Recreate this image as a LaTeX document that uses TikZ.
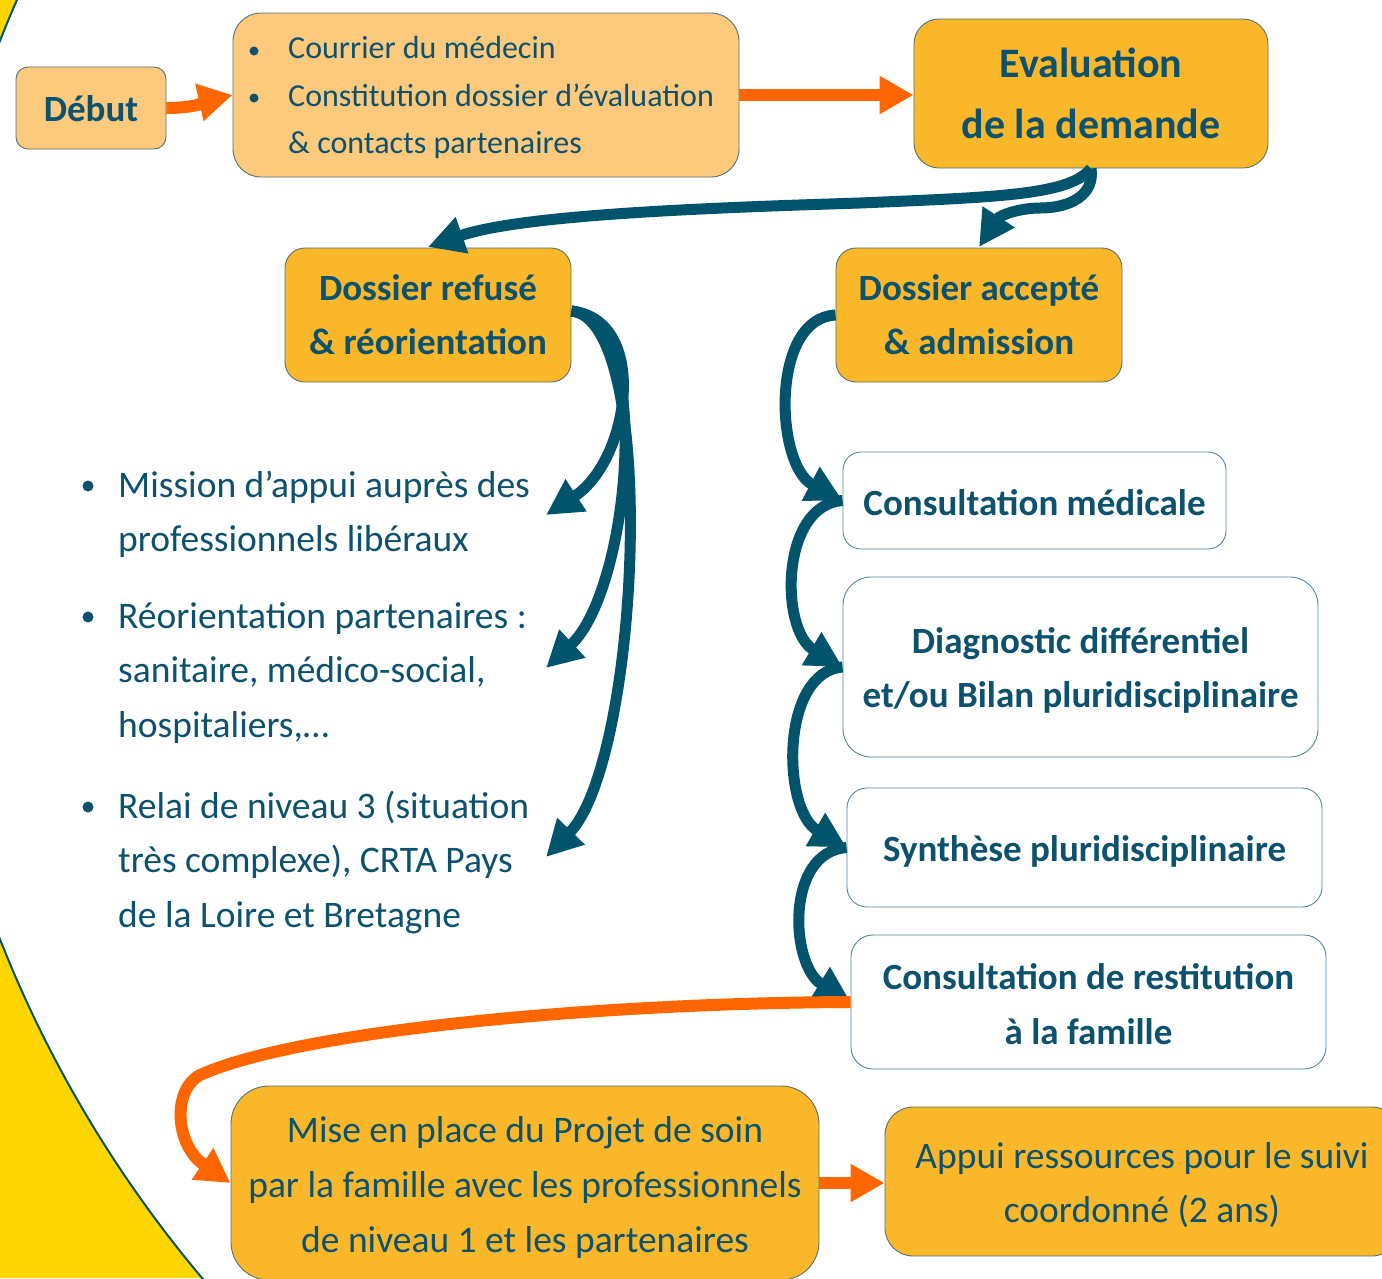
\documentclass[tikz,border=0pt]{standalone}
\usepackage{fontspec}
\setmainfont{Carlito}
\usetikzlibrary{arrows.meta}
\definecolor{ybg}{RGB}{255,214,0}
\definecolor{lor}{RGB}{253,201,125}
\definecolor{dor}{RGB}{251,183,42}
\definecolor{oarr}{RGB}{255,102,0}
\definecolor{tarr}{RGB}{2,84,108}
\definecolor{txt}{RGB}{12,82,110}
\definecolor{oline}{RGB}{85,115,115}
\definecolor{wline}{RGB}{80,135,165}
\begin{document}
\begin{tikzpicture}[x=1pt,y=-1pt,
 obox/.style={draw=oline, line width=0.9pt, inner sep=0pt},
 wbox/.style={draw=wline, line width=0.9pt, fill=white, inner sep=0pt},
 bfont/.style={font=\fontsize{37}{54}\selectfont\bfseries},
 efont/.style={font=\fontsize{42}{61}\selectfont\bfseries},
 rfont/.style={font=\fontsize{37.5}{54.5}\selectfont},
 cfont/.style={font=\fontsize{32}{46.5}\selectfont},
 tline/.style={anchor=base, inner sep=0pt, text=txt},
 ltext/.style={anchor=base west, inner sep=0pt, text=txt},
 oarrow/.style={draw=oarr, line width=12pt, -{Triangle[length=34pt,width=36pt]}},
 tarrow/.style={draw=tarr, line width=11pt, -{Triangle[length=36pt,width=36pt]}},
 bul/.style={fill=txt}]
\useasboundingbox (0,0) rectangle (1382,1278);
\begin{scope}
\clip (0,0) rectangle (1382,1278);
\fill[ybg] (0,0) rectangle (1382,1278);
\filldraw[fill=white, draw=tarr, line width=2pt] (1140,490) circle[radius=1225];

% boxes
\node[obox, fill=lor, rounded corners=12pt, minimum width=150, minimum height=82] (debut) at (91,108) {};
\node[obox, fill=lor, rounded corners=28pt, minimum width=506, minimum height=164] (courrier) at (486,95) {};
\node[obox, fill=dor, rounded corners=25pt, minimum width=354, minimum height=149] (eval) at (1091,93.5) {};
\node[obox, fill=dor, rounded corners=20pt, minimum width=286, minimum height=134] (refuse) at (428,315) {};
\node[obox, fill=dor, rounded corners=20pt, minimum width=286, minimum height=134] (accepte) at (979,315) {};
\node[wbox, rounded corners=18pt, minimum width=383, minimum height=97] (consult) at (1034.5,500.5) {};
\node[wbox, rounded corners=28pt, minimum width=475, minimum height=180] (diag) at (1080.5,667) {};
\node[wbox, rounded corners=20pt, minimum width=475, minimum height=119] (synth) at (1084.5,847.5) {};
\node[wbox, rounded corners=22pt, minimum width=475, minimum height=134] (restit) at (1088.5,1002) {};
\node[obox, fill=dor, rounded corners=38pt, minimum width=588, minimum height=194] (mise) at (525,1183) {};
\node[obox, fill=dor, rounded corners=28pt, minimum width=515, minimum height=149] (appui) at (1142.5,1181.5) {};

% box texts
\node[tline, bfont] (debut-t) at (91,121) {Début};
\node[tline, efont] (eval-t1) at (1091,77) {Evaluation};
\node[tline, efont] (eval-t2) at (1091,138) {de la demande};
\node[tline, bfont] (refuse-t1) at (428,300) {Dossier refusé};
\node[tline, bfont] (refuse-t2) at (428,354) {\& réorientation};
\node[tline, bfont] (accepte-t1) at (979,300) {Dossier accepté};
\node[tline, bfont] (accepte-t2) at (979,354) {\& admission};
\node[tline, bfont] (consult-t) at (1034.5,515) {Consultation médicale};
\node[tline, bfont] (diag-t1) at (1080.5,653) {Diagnostic différentiel};
\node[tline, bfont] (diag-t2) at (1080.5,707) {et/ou Bilan pluridisciplinaire};
\node[tline, bfont] (synth-t) at (1084.5,861) {Synthèse pluridisciplinaire};
\node[tline, bfont] (restit-t1) at (1088.5,989) {Consultation de restitution};
\node[tline, bfont] (restit-t2) at (1088.5,1044) {à la famille};
\node[tline, rfont] (mise-t1) at (525,1142) {Mise en place du Projet de soin};
\node[tline, rfont] (mise-t2) at (525,1197) {par la famille avec les professionnels};
\node[tline, rfont] (mise-t3) at (525,1252) {de niveau 1 et les partenaires};
\node[tline, rfont] (appui-t1) at (1142,1168) {Appui ressources pour le suivi};
\node[tline, rfont] (appui-t2) at (1142,1222) {coordonné (2 ans)};

% courrier text
\fill[bul] (254,51) circle[radius=4.5];
\fill[bul] (254,98) circle[radius=4.5];
\node[ltext, cfont] (c1) at (288,58) {Courrier du médecin};
\node[ltext, cfont] (c2) at (288,106) {Constitution dossier d’évaluation};
\node[ltext, cfont] (c3) at (288,153) {\& contacts partenaires};

% left list
\fill[bul] (88,486) circle[radius=5.5];
\fill[bul] (88,617) circle[radius=5.5];
\fill[bul] (88,807) circle[radius=5.5];
\node[ltext, rfont] (l1a) at (118,497) {Mission d’appui auprès des};
\node[ltext, rfont] (l1b) at (118,551) {professionnels libéraux};
\node[ltext, rfont] (l2a) at (118,628) {Réorientation partenaires :};
\node[ltext, rfont] (l2b) at (118,682) {sanitaire, médico-social,};
\node[ltext, rfont] (l2c) at (118,737) {hospitaliers,…};
\node[ltext, rfont] (l3a) at (118,818) {Relai de niveau 3 (situation};
\node[ltext, rfont] (l3b) at (118,872) {très complexe), CRTA Pays};
\node[ltext, rfont] (l3c) at (118,927) {de la Loire et Bretagne};

\coordinate (t1) at (546,515);
\coordinate (t2) at (546,668);
\coordinate (t3) at (546,857);
\coordinate (tr) at (428,247);
\coordinate (ta) at (979,247);

% orange arrows
\draw[oarrow] (debut.east) .. controls (200,108) and (210,100) .. (courrier.west);
\draw[oarrow] (courrier.east) -- (courrier.east -| eval.west);
\draw[oarrow] (mise.east) -- (mise.east -| appui.west);

% teal arrows
\draw[tarrow] (eval.south) .. controls (1070,195) and (1000,197) .. (860,203) .. controls (700,208) and (520,215) .. (tr);
\draw[tarrow] (eval.south) .. controls (1095,195) and (1070,208) .. (1040,208) .. controls (1020,208) and (1000,215) .. (ta);
\draw[tarrow] ([yshift=4pt]refuse.east) .. controls (650,320) and (630,460) .. (t1);
\draw[tarrow] ([yshift=4pt]refuse.east) .. controls (655,320) and (630,590) .. (t2);
\draw[tarrow] ([yshift=4pt]refuse.east) .. controls (660,320) and (640,760) .. (t3);
\draw[tarrow] (accepte.west) .. controls (770,318) and (775,465) .. (consult.west);
\draw[tarrow] (consult.west) .. controls (780,505) and (780,630) .. (diag.west);
\draw[tarrow] (diag.west) .. controls (780,672) and (782,810) .. (synth.west);
\draw[tarrow] (synth.west) .. controls (785,852) and (790,965) .. (restit.west);
\draw[oarrow] (restit.west) .. controls (600,1003) and (300,1030) .. (200,1075) .. controls (172,1090) and (175,1145) .. (mise.west);
\end{scope}
\end{tikzpicture}
\end{document}
